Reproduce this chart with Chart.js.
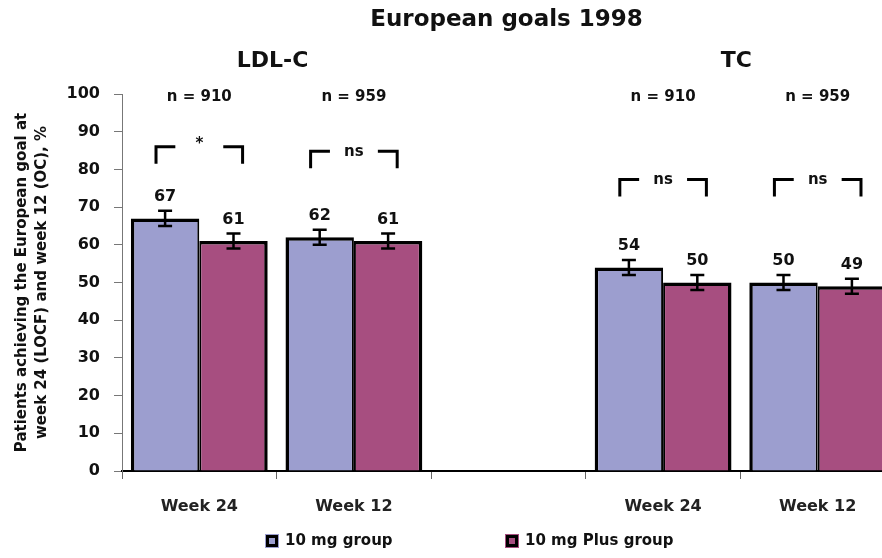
<!DOCTYPE html>
<html>
<head>
<meta charset="utf-8">
<script src="https://cdn.jsdelivr.net/npm/chart.js@4.4.1/dist/chart.umd.min.js"></script>
<style>
  html, body { margin: 0; padding: 0; overflow: hidden; background: #ffffff; }
  canvas { display: block; }
</style>
</head>
<body>
<canvas id="chart" width="896" height="558"></canvas>
<script>
// Categories along the x axis (third slot is the gap between the LDL-C and TC panels)
const categories = ['Week 24', 'Week 12', '', 'Week 24', 'Week 12'];

// Percentage of patients reaching the European goal
const tenMgGroup = [67, 62, null, 54, 50];
const tenMgPlusGroup = [61, 61, null, 50, 49];

// Half-length of the error bars, in percentage points
const tenMgError = [2, 2, null, 2, 2];
const tenMgPlusError = [2, 2, null, 2, 2];

// Sample sizes and between-group comparison results per category
const sampleSizes = ['n = 910', 'n = 959', '', 'n = 910', 'n = 959'];
const comparisons = ['*', 'ns', null, 'ns', 'ns'];

// Panel headings and the two categories each one spans
const panelHeadings = ['LDL-C', 'TC'];
const panelCategories = [[0, 1], [3, 4]];

const seriesNames = ['10 mg group', '10 mg Plus group'];
const yTicks = { min: 0, max: 100, step: 10 };

const FONT = '"DejaVu Sans", "Liberation Sans", Arial, sans-serif';
const BLUE = '#9c9ecf';
const PINK = '#a74e80';

// Draws error bars, value labels, comparison brackets, headings and legend
const annotations = {
  id: 'annotations',
  afterDatasetsDraw(chart, args, opts) {
    const ctx = chart.ctx;
    const xs = chart.scales.x;
    const ys = chart.scales.y;
    const area = chart.chartArea;
    const catW = xs.getPixelForValue(1) - xs.getPixelForValue(0);

    ctx.save();
    ctx.fillStyle = '#111';
    ctx.strokeStyle = '#000';
    ctx.textAlign = 'center';
    ctx.textBaseline = 'middle';

    // error bars and value labels
    chart.data.datasets.forEach((ds, di) => {
      const meta = chart.getDatasetMeta(di);
      meta.data.forEach((bar, i) => {
        const v = ds.data[i];
        if (v == null) return;
        const e = ds.errors[i];
        const yTop = ys.getPixelForValue(v + e);
        const yBot = ys.getPixelForValue(v - e);
        const cx = bar.x;
        ctx.lineWidth = 2.5;
        ctx.beginPath();
        ctx.moveTo(cx, yTop); ctx.lineTo(cx, yBot);
        ctx.moveTo(cx - opts.capHalf, yTop); ctx.lineTo(cx + opts.capHalf, yTop);
        ctx.moveTo(cx - opts.capHalf, yBot); ctx.lineTo(cx + opts.capHalf, yBot);
        ctx.stroke();
        ctx.font = 'bold 16px ' + FONT;
        ctx.fillText(String(v), cx, yTop - 14);
      });
    });

    // comparison brackets
    ctx.lineWidth = 3;
    comparisons.forEach((label, i) => {
      if (label == null) return;
      const cx = xs.getPixelForValue(i);
      const top = ys.getPixelForValue(opts.bracketLevels[i]);
      const bot = ys.getPixelForValue(opts.bracketLevels[i] - opts.bracketDrop);
      const half = catW * opts.bracketHalf;
      const arm = catW * opts.bracketArm;
      ctx.beginPath();
      ctx.moveTo(cx - half, bot); ctx.lineTo(cx - half, top); ctx.lineTo(cx - half + arm, top);
      ctx.moveTo(cx + half - arm, top); ctx.lineTo(cx + half, top); ctx.lineTo(cx + half, bot);
      ctx.stroke();
      ctx.font = 'bold 15px ' + FONT;
      ctx.fillText(label, cx, label === '*' ? top - 3 : top + 1);
    });

    // sample sizes
    ctx.font = 'bold 15px ' + FONT;
    sampleSizes.forEach((n, i) => {
      if (!n) return;
      ctx.fillText(n, xs.getPixelForValue(i), area.top + 3);
    });

    // panel headings
    ctx.font = 'bold 22px ' + FONT;
    panelHeadings.forEach((h, k) => {
      const [a, b] = panelCategories[k];
      const cx = (xs.getPixelForValue(a) + xs.getPixelForValue(b)) / 2;
      ctx.fillText(h, cx - 4, 61);
    });

    // chart title
    ctx.font = 'bold 23px ' + FONT;
    ctx.fillText('European goals 1998', (area.left + area.right) / 2 - 2, 20);

    // legend
    ctx.font = 'bold 15px ' + FONT;
    ctx.textAlign = 'left';
    const legendY = 541;
    chart.data.datasets.forEach((ds, di) => {
      const lx = area.left + opts.legendOffsets[di];
      ctx.fillStyle = ds.backgroundColor;
      ctx.fillRect(lx, legendY - 7, 14, 14);
      ctx.fillStyle = '#000';
      ctx.fillRect(lx + 1, legendY - 6, 12, 12);
      ctx.fillStyle = ds.backgroundColor;
      ctx.fillRect(lx + 4, legendY - 3, 6, 6);
      ctx.fillStyle = '#111';
      ctx.fillText(ds.label, lx + 20, legendY);
    });

    ctx.restore();
  }
};

new Chart(document.getElementById('chart'), {
  type: 'bar',
  data: {
    labels: categories,
    datasets: [
      {
        label: seriesNames[0],
        data: tenMgGroup,
        errors: tenMgError,
        backgroundColor: BLUE,
        borderColor: '#000',
        borderWidth: { left: 3.5, top: 3.5, right: 2, bottom: 0 },
        borderSkipped: 'bottom'
      },
      {
        label: seriesNames[1],
        data: tenMgPlusGroup,
        errors: tenMgPlusError,
        backgroundColor: PINK,
        borderColor: '#000',
        borderWidth: { left: 2, top: 3.5, right: 3.5, bottom: 0 },
        borderSkipped: 'bottom'
      }
    ]
  },
  options: {
    responsive: false,
    animation: false,
    layout: { padding: { top: 94, right: 1, bottom: 37, left: 0 } },
    datasets: { bar: { categoryPercentage: 0.885, barPercentage: 1.0 } },
    plugins: {
      legend: { display: false },
      tooltip: { enabled: false },
      title: { display: false },
      annotations: {
        capHalf: 7,
        bracketLevels: [86, 84.8, null, 77.3, 77.3],
        bracketDrop: 4.5,
        bracketHalf: 0.28,
        bracketArm: 0.125,
        legendOffsets: [143, 383]
      }
    },
    scales: {
      x: {
        grid: { drawOnChartArea: false, offset: true, tickLength: 8, color: '#666', lineWidth: 1 },
        border: { color: '#000', width: 2 },
        ticks: { color: '#222', font: { family: FONT, size: 16, weight: 'bold' }, padding: 18, maxRotation: 0 },
        afterFit(scale) { scale.height = 50; }
      },
      y: {
        min: yTicks.min,
        max: yTicks.max,
        grid: { drawOnChartArea: false, tickLength: 8, color: '#777', lineWidth: 1 },
        border: { color: '#777', width: 1 },
        ticks: { stepSize: yTicks.step, color: '#111', font: { family: FONT, size: 16, weight: 'bold' }, padding: 14 },
        title: {
          display: true,
          text: ['Patients achieving the European goal at', 'week 24 (LOCF) and week 12 (OC), %'],
          color: '#111',
          font: { family: FONT, size: 15, weight: 'bold', lineHeight: 1.33 },
          padding: { top: 12, bottom: 0 }
        },
        afterFit(scale) { scale.width = 122; }
      }
    }
  },
  plugins: [annotations]
});
</script>
</body>
</html>
